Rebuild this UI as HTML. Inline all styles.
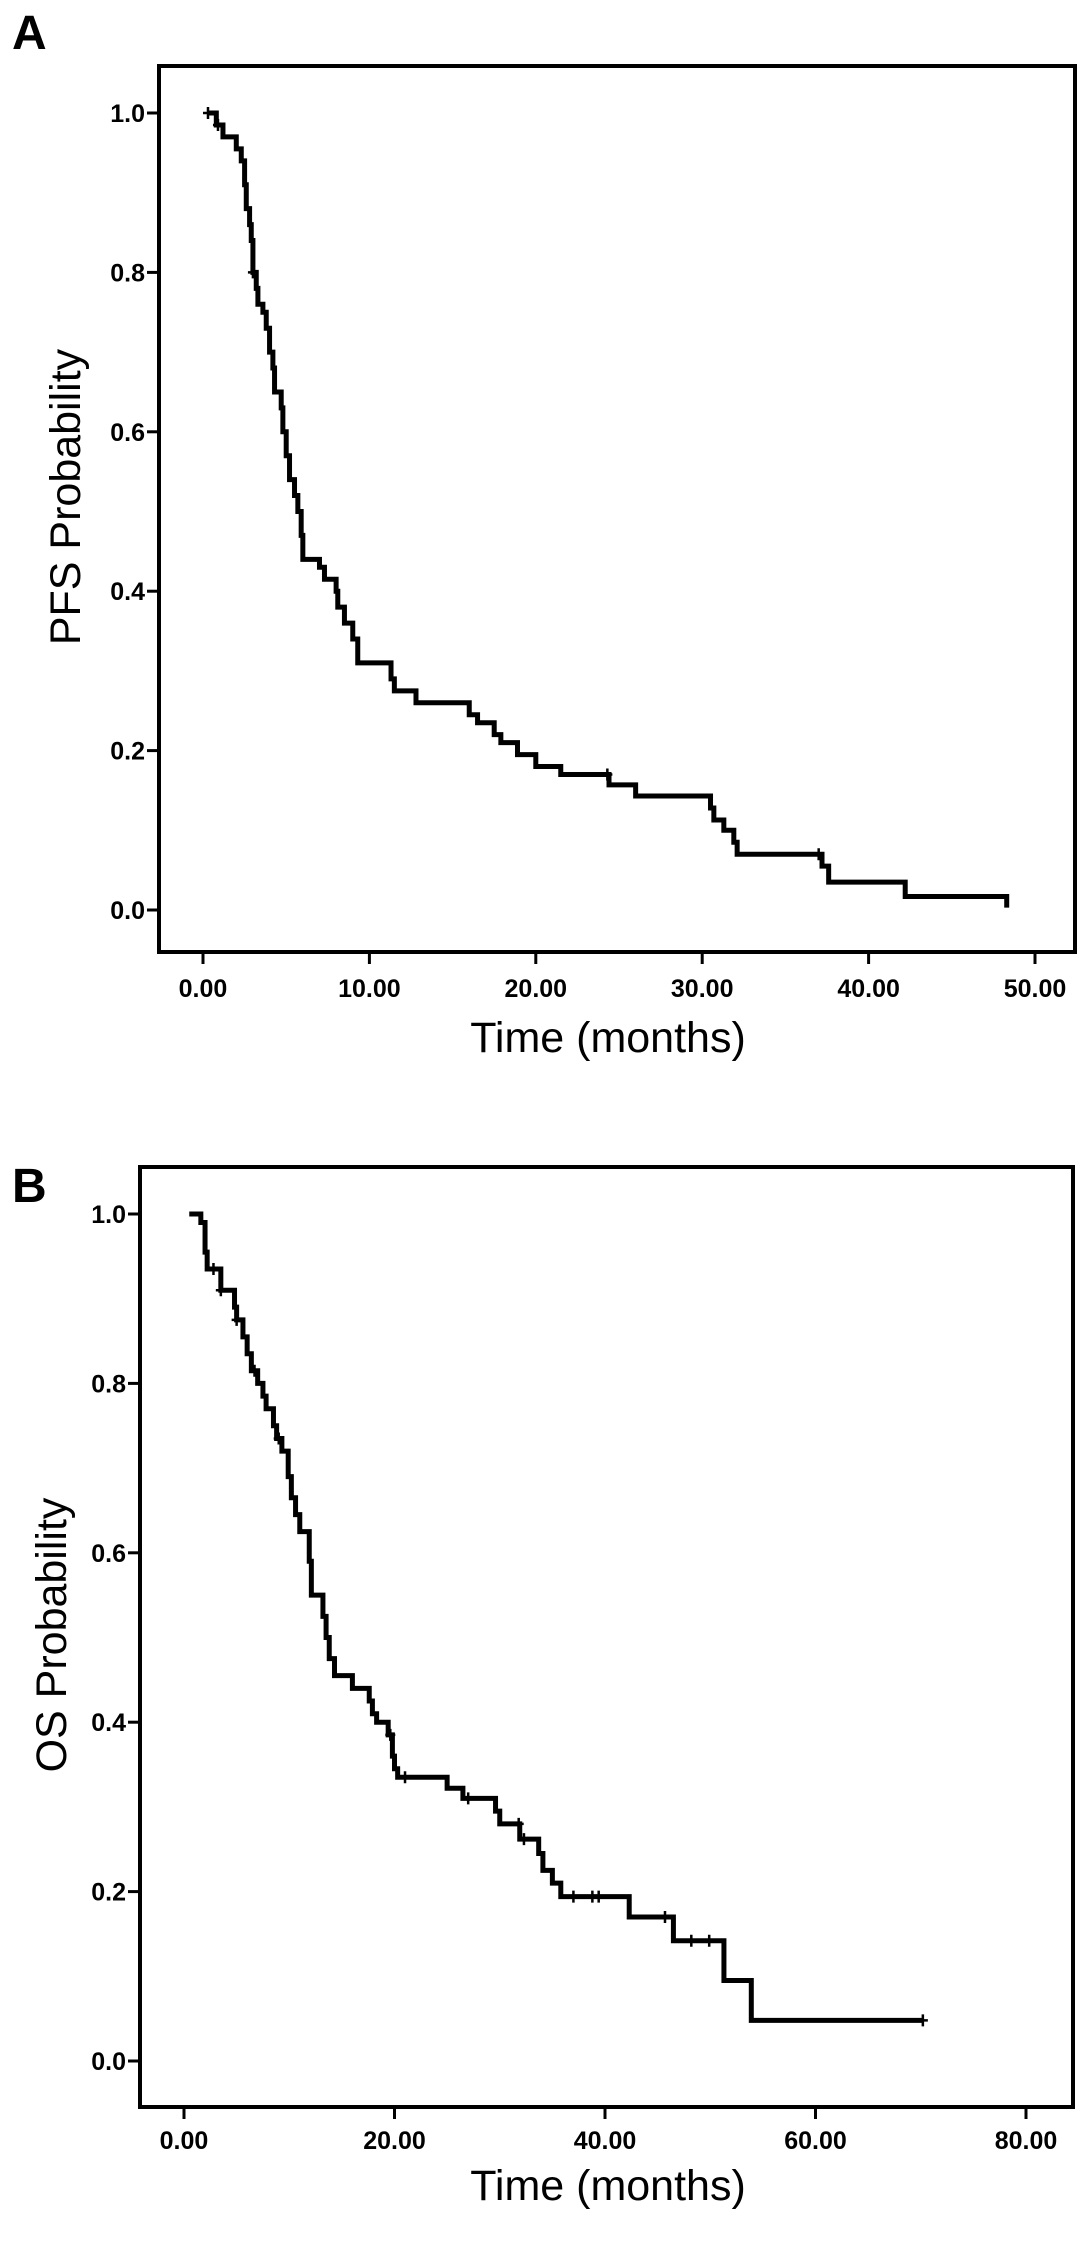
<!DOCTYPE html>
<html><head><meta charset="utf-8"><style>
html,body{margin:0;padding:0;background:#fff;}
svg{display:block;font-family:"Liberation Sans",Arial,sans-serif;}
</style></head><body>
<svg id="fig" width="1087" height="2251" viewBox="0 0 1087 2251"></svg>
<script>
// Panel A (PFS) data
const pfsTimes = [0.3,0.8,1.2,2.0,2.3,2.5,2.6,2.8,2.9,3.0,3.2,3.3,3.6,3.8,4.0,4.2,4.3,4.7,4.8,5.0,5.2,5.5,5.7,5.9,6.0,7.0,7.3,8.0,8.1,8.5,9.0,9.3,11.3,11.5,12.8,16.0,16.5,17.5,17.9,18.9,20.0,21.5,24.4,26.0,30.5,30.7,31.3,31.9,32.1,37.2,37.6,42.2,48.3];
const pfsSurv  = [1.0,0.985,0.97,0.955,0.94,0.91,0.88,0.86,0.84,0.80,0.78,0.76,0.75,0.73,0.70,0.68,0.65,0.63,0.60,0.57,0.54,0.52,0.50,0.47,0.44,0.43,0.415,0.40,0.38,0.36,0.34,0.31,0.29,0.275,0.26,0.245,0.235,0.22,0.21,0.195,0.18,0.17,0.157,0.143,0.128,0.113,0.10,0.085,0.07,0.055,0.035,0.017,0.003];
const pfsCensor = [0.3,0.9,3.0,24.3,37.0];
const pfsXTicks = ["0.00","10.00","20.00","30.00","40.00","50.00"];
const pfsXTickVals = [0,10,20,30,40,50];
const yTickVals = [0,0.2,0.4,0.6,0.8,1.0];
const yTickLabels = ["0.0","0.2","0.4","0.6","0.8","1.0"];

// Panel B (OS) data
const osTimes = [0.5,1.6,2.0,2.2,3.5,4.8,5.0,5.6,6.0,6.4,7.0,7.5,7.8,8.5,8.8,9.3,9.9,10.2,10.6,11.0,11.9,12.1,13.2,13.5,13.8,14.3,16.0,17.6,17.9,18.3,19.4,19.8,20.0,20.3,25.0,26.5,29.6,30.0,31.9,33.7,34.1,35.0,35.8,42.3,46.5,51.3,53.9];
const osSurv  = [1.0,0.99,0.955,0.935,0.91,0.89,0.875,0.855,0.835,0.815,0.80,0.785,0.77,0.75,0.735,0.72,0.69,0.665,0.645,0.625,0.59,0.55,0.525,0.50,0.475,0.455,0.44,0.425,0.41,0.40,0.385,0.36,0.345,0.335,0.322,0.31,0.295,0.28,0.262,0.245,0.225,0.21,0.194,0.17,0.142,0.095,0.048];
const osEnd = 70.2;
const osCensor = [2.8,3.5,5.0,6.7,9.0,19.6,21.0,27.0,31.8,32.3,37.0,38.8,39.4,45.7,48.2,49.9,70.2];
const osXTicks = ["0.00","20.00","40.00","60.00","80.00"];
const osXTickVals = [0,20,40,60,80];

const NS="http://www.w3.org/2000/svg";
const svg=document.getElementById('fig');
function mk(tag,attrs,parent){const e=document.createElementNS(NS,tag);for(const k in attrs)e.setAttribute(k,attrs[k]);(parent||svg).appendChild(e);return e;}

function panel(cfg){
  const g=mk('g',{});
  
  
  const sx=t=>cfg.x0+(cfg.x1-cfg.x0)*t/cfg.xmax;
  const sy=v=>cfg.y0+(cfg.y1-cfg.y0)*v;
  const fr=mk('rect',{x:cfg.fl,y:cfg.ft,width:cfg.fr-cfg.fl,height:cfg.fb-cfg.ft,fill:'none',stroke:'#000','stroke-width':4},g);
  
  
  const L=mk('text',{x:12,y:cfg.letterY,'font-size':48,'font-weight':'bold'},g);L.textContent=cfg.letter;
  
  
  yTickVals.forEach((v,i)=>{
    const y=sy(v);
    const tk=mk('line',{x1:cfg.fl-12,x2:cfg.fl-2,y1:y,y2:y,stroke:'#000','stroke-width':3},g);
    
    
    const t=mk('text',{x:cfg.fl-14,y:y+9,'font-size':25,'font-weight':'bold','text-anchor':'end'},g);
    t.textContent=yTickLabels[i];
    
    
  });
  cfg.xTickVals.forEach((v,i)=>{
    const x=sx(v);
    const tk=mk('line',{x1:x,x2:x,y1:cfg.fb+2,y2:cfg.fb+12,stroke:'#000','stroke-width':3},g);
    
    
    const t=mk('text',{x:x,y:cfg.xLabelY,'font-size':25,'font-weight':'bold','text-anchor':'middle'},g);
    t.textContent=cfg.xTicks[i];
    
    
  });
  const xt=mk('text',{x:608,y:cfg.xTitleY,'font-size':43,'text-anchor':'middle'},g);
  xt.textContent='Time (months)';
  
  
  const yt=mk('text',{x:0,y:0,'font-size':43,'text-anchor':'middle',transform:`translate(${cfg.yTitleX},${cfg.yTitleY}) rotate(-90)`},g);
  yt.textContent=cfg.yTitle;
  
  
  const T=cfg.times,S=cfg.surv;
  let d=`M${sx(T[0])},${sy(S[0])}`;
  for(let i=1;i<T.length;i++){d+=` H${sx(T[i])} V${sy(S[i])}`;}
  if(cfg.end!==undefined)d+=` H${sx(cfg.end)}`;
  const p=mk('path',{d:d,fill:'none',stroke:'#000','stroke-width':5,'stroke-linejoin':'miter'},g);
  
  
  const survAt=t=>{let s=S[0];for(let i=0;i<T.length;i++){if(T[i]<=t)s=S[i];}return s;};
  cfg.censor.forEach(t=>{
    const x=sx(t),y=sy(survAt(t));
    const c=mk('path',{d:`M${x},${y-6} V${y+6} M${x-5},${y} H${x+5}`,stroke:'#000','stroke-width':2.5,fill:'none'},g);
    
    
  });
}

panel({name:'panel-a-pfs',letter:'A',letterY:49,fl:159,ft:66,fr:1075,fb:952,
  x0:203,x1:1035,xmax:50,y0:910,y1:113,
  xTicks:pfsXTicks,xTickVals:pfsXTickVals,xLabelY:997,xTitleY:1052,
  yTitle:'PFS Probability',yTitleX:80,yTitleY:497,
  times:pfsTimes,surv:pfsSurv,censor:pfsCensor});
panel({name:'panel-b-os',letter:'B',letterY:1202,fl:140,ft:1167,fr:1073,fb:2107,
  x0:184,x1:1026,xmax:80,y0:2061,y1:1214,
  xTicks:osXTicks,xTickVals:osXTickVals,xLabelY:2149,xTitleY:2200,
  yTitle:'OS Probability',yTitleX:66,yTitleY:1635,
  times:osTimes,surv:osSurv,end:osEnd,censor:osCensor});
</script>
</body></html>
